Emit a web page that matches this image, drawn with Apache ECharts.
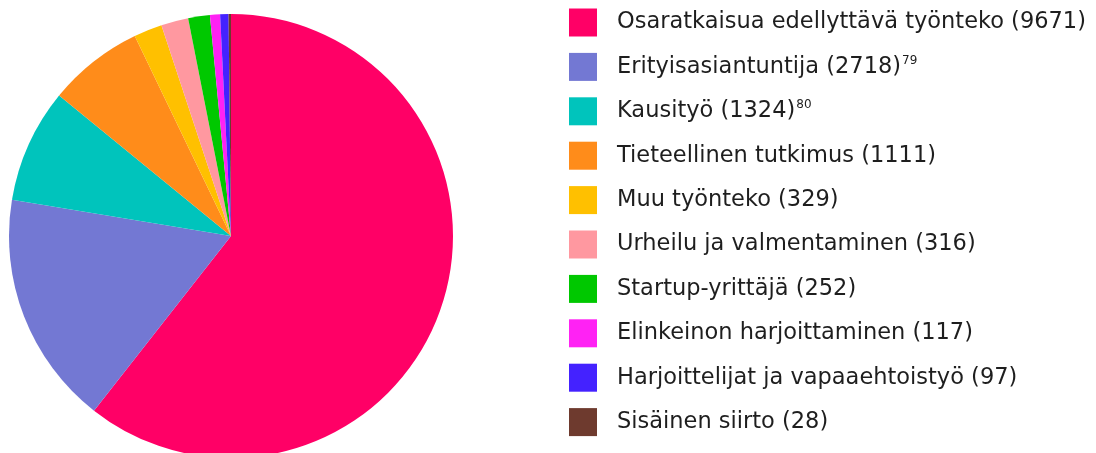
<!DOCTYPE html>
<html>
<head>
<meta charset="utf-8">
<script src="https://cdn.jsdelivr.net/npm/echarts@6/dist/echarts.min.js"></script>
<style>
  html, body { margin: 0; padding: 0; background: #fff; }
  #chart { width: 1096px; height: 453px; }
</style>
</head>
<body>
<div id="chart"></div>
<script>
// luokat, arvot ja alaviitteet
const categories = [
  "Osaratkaisua edellyttävä työnteko",
  "Erityisasiantuntija",
  "Kausityö",
  "Tieteellinen tutkimus",
  "Muu työnteko",
  "Urheilu ja valmentaminen",
  "Startup-yrittäjä",
  "Elinkeinon harjoittaminen",
  "Harjoittelijat ja vapaaehtoistyö",
  "Sisäinen siirto"
];
const values = [9671, 2718, 1324, 1111, 329, 316, 252, 117, 97, 28];
const footnotes = ["", "79", "80", "", "", "", "", "", "", ""];
const colors = [
  "#FF0066", "#7378D3", "#00C4BC", "#FF8C1A", "#FFC000",
  "#FF98A0", "#00C800", "#FF22F4", "#4422FF", "#6E3A2E"
];

const chart = echarts.init(document.getElementById("chart"));

const option = {
  animation: false,
  textStyle: { fontFamily: "DejaVu Sans" },
  legend: {
    orient: "vertical",
    left: 569,
    top: 8.5,
    padding: 0,
    itemWidth: 28,
    itemHeight: 28,
    itemGap: 16.4,
    icon: "rect",
    data: categories,
    formatter: (name) => {
      const i = categories.indexOf(name);
      const sup = footnotes[i] ? `{sup|${footnotes[i]}}` : "";
      return `{main|${name} (${values[i]})}${sup}`;
    },
    textStyle: {
      rich: {
        main: { fontSize: 22.5, color: "#1e1e1e", padding: [0, 0, 0, 15], fontFamily: "DejaVu Sans" },
        sup: { fontSize: 12, color: "#1e1e1e", verticalAlign: "top", padding: [0, 0, 12, 1], fontFamily: "DejaVu Sans" }
      }
    }
  },
  series: [
    {
      type: "pie",
      center: [231, 236],
      radius: 222,
      startAngle: 90,
      clockwise: true,
      label: { show: false },
      labelLine: { show: false },
      itemStyle: { borderWidth: 0 },
      emphasis: { disabled: true },
      data: categories.map((c, i) => ({
        name: c,
        value: values[i],
        itemStyle: { color: colors[i] }
      }))
    }
  ]
};

chart.setOption(option);
</script>
</body>
</html>
